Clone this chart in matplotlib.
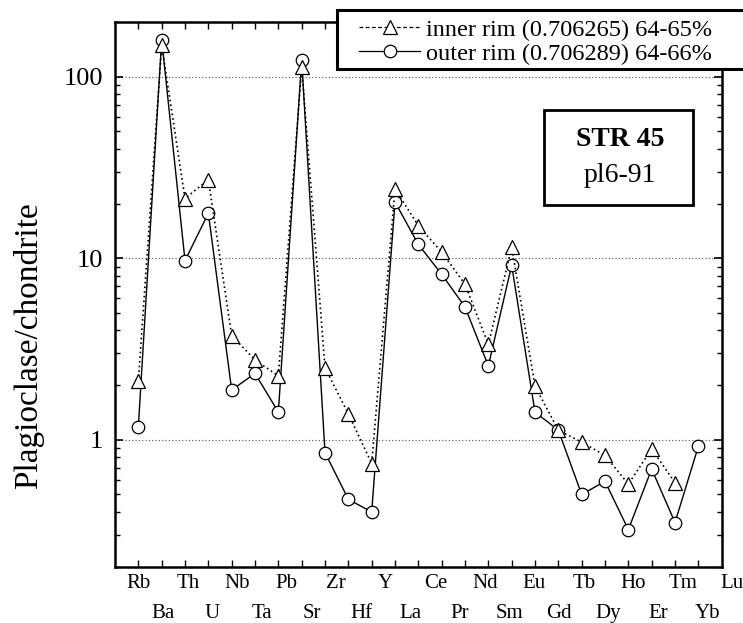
import numpy as np
import matplotlib
matplotlib.use("Agg")
import matplotlib.pyplot as plt
from matplotlib.lines import Line2D
from matplotlib.patches import Rectangle
from matplotlib.ticker import FuncFormatter, NullFormatter, LogLocator

plt.rcParams['font.family'] = ['Liberation Serif', 'DejaVu Serif']

# Data
elements = ["Rb", "Ba", "Th", "U", "Nb", "Ta", "Pb", "Sr", "Zr", "Hf", "Y", "La", "Ce",
            "Pr", "Nd", "Sm", "Eu", "Gd", "Tb", "Dy", "Ho", "Er", "Tm", "Yb", "Lu"]
inner_rim = [2.1, 149, 21.3, 27.1, 3.75, 2.75, 2.25, 113, 2.49, 1.39, 0.74, 24.1, 15.1,
             10.8, 7.19, 3.35, 11.5, 1.97, 1.13, 0.97, 0.82, 0.57, 0.89, 0.58, np.nan]
outer_rim = [1.18, 160, 9.7, 17.7, 1.88, 2.32, 1.42, 123, 0.85, 0.47, 0.40, 20.4, 11.9,
             8.16, 5.39, 2.55, 9.15, 1.42, 1.13, 0.50, 0.59, 0.32, 0.69, 0.35, 0.92]
inner_label = "inner rim (0.706265) 64-65%"
outer_label = "outer rim (0.706289) 64-66%"

fig = plt.figure(figsize=(7.43, 6.23), dpi=100)
ax = fig.add_axes([0.1548, 0.0904, 0.8165, 0.8743])

x = np.arange(1, len(elements) + 1)
ax.plot(x, outer_rim, color='black', ls='-', lw=1.0, marker='o', ms=9,
        mfc='white', mec='black', mew=0.9, zorder=3)
ax.plot(x, inner_rim, color='black', ls=(0, (1, 1.8)), lw=1.2, marker='^', ms=10,
        mfc='white', mec='black', mew=0.9, zorder=4)

ax.set_yscale('log')
ax.set_ylim(0.2, 200)
ax.set_xlim(0, 26)
ax.set_xticks(x)
ax.set_xticklabels([])
ax.yaxis.set_major_locator(LogLocator(base=10))
ax.yaxis.set_major_formatter(FuncFormatter(lambda v, p: f"{v:g}"))
ax.yaxis.set_minor_formatter(NullFormatter())

ax.tick_params(axis='x', which='both', direction='in', top=True, bottom=True,
               length=5, width=1.0)
ax.tick_params(axis='y', which='major', direction='in', left=True, right=True,
               length=6, width=1.2, labelsize=19, pad=8.6)
ax.tick_params(axis='y', which='minor', direction='in', left=True, right=True,
               length=3.6, width=1.0)
for s in ax.spines.values():
    s.set_linewidth(1.8)

ax.yaxis.grid(True, which='major', ls=(0, (1, 2)), color='#555555', lw=0.8)

ax.set_ylabel("Plagioclase/chondrite", fontsize=24, va='center')
ax.yaxis.set_label_coords(-0.1418, 0.406)

# element labels, two staggered rows
label_pos = np.linspace(1, 26.45, len(elements))
for i, (el, xp) in enumerate(zip(elements, label_pos)):
    dy = -12.2 if i % 2 == 0 else -33.8
    ax.annotate(el, xy=(xp, 0), xycoords=('data', 'axes fraction'),
                xytext=(0, dy), textcoords='offset points',
                ha='center', va='center', fontsize=15, annotation_clip=False)

# sample box
ax.add_patch(Rectangle((0.7071, 0.664), 0.2456, 0.1744, transform=ax.transAxes,
                       fill=False, lw=2.0, ec='black', zorder=6))
ax.text(0.8324, 0.7834, "STR 45", transform=ax.transAxes, ha='center', va='center',
        fontsize=20, fontweight='bold', zorder=7)
ax.text(0.8324, 0.7173, "pl6-91", transform=ax.transAxes, ha='center', va='center',
        fontsize=20, zorder=7)

# legend box (runs off the right edge)
fig.add_artist(Rectangle((0.4536, 0.8892), 0.6, 0.0947, transform=fig.transFigure,
                         fc='white', ec='black', lw=2.2, zorder=5))
handles = [
    Line2D([], [], color='black', ls=(0, (3, 2)), lw=0.9, marker='^', ms=10,
           mfc='white', mec='black', mew=0.9),
    Line2D([], [], color='black', ls='-', lw=0.9, marker='o', ms=9,
           mfc='white', mec='black', mew=0.9),
]
leg = fig.legend(handles, [inner_label, outer_label], loc='upper left',
                 bbox_to_anchor=(0.477, 0.978), frameon=False, fontsize=17.5,
                 handlelength=2.5, handletextpad=0.25, labelspacing=0.08,
                 borderpad=0.2, borderaxespad=0, numpoints=1)
leg.set_zorder(6)

fig.savefig("out.png", dpi=100)
